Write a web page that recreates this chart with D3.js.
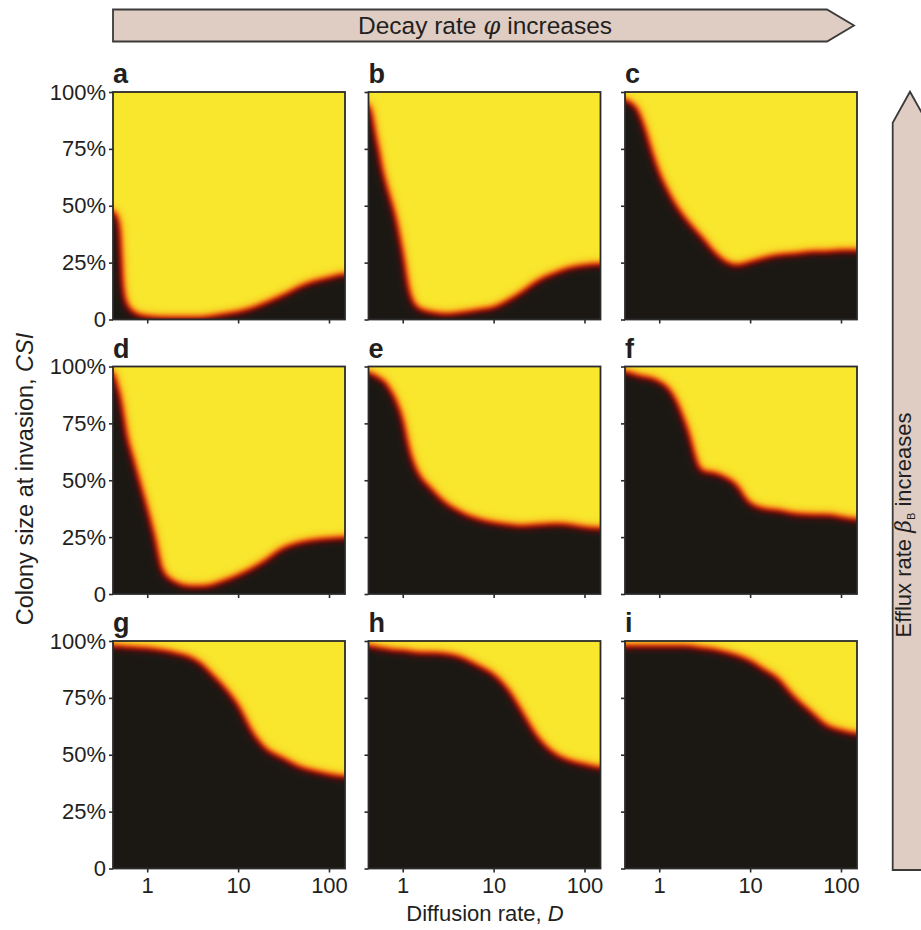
<!DOCTYPE html>
<html>
<head>
<meta charset="utf-8">
<script src="https://cdn.jsdelivr.net/npm/d3@7/dist/d3.min.js"></script>
<style>
  body { margin: 0; background: #fff; }
  text { font-family: "Liberation Sans", Arial, sans-serif; fill: #231f20; }
</style>
</head>
<body>
<div id="chart"></div>
<script>
// diffusion rate D sampled along the x axis (log)
const diffusion = [0.42, 0.46, 0.5, 0.55, 0.6, 0.7, 0.85, 1, 1.2, 1.5, 2, 3, 4, 5, 7, 10, 15, 20, 30, 50, 70, 100, 150];

// CSI (%) where the map switches from black (below) to yellow (above)
const csiA = [48, 46, 40, 14, 7, 3.5, 2, 1.5, 1.2, 1, 1, 1, 1, 1.5, 2.5, 3.5, 5.5, 7.5, 10.5, 15, 17, 18.5, 20];
const csiB = [95, 90, 82, 74, 66, 56, 44, 30, 12, 5, 3.5, 2.5, 3, 3.5, 4.5, 5.5, 9, 12, 17, 21, 23, 24, 24.5];
const csiC = [97, 96, 95, 94, 91, 84, 73, 65, 58, 51, 44, 36, 30, 26.5, 24, 25.5, 27.5, 28.5, 29, 30, 30, 30.5, 30.5];
const csiD = [98, 93, 88, 79, 70, 60, 48, 38, 26, 10, 5.5, 3.5, 3.5, 4, 6, 8.5, 12, 15, 20, 23, 24, 24.5, 25];
const csiE = [97.5, 97, 96, 95, 94.5, 91, 85, 77, 63, 53, 47, 40, 37, 35, 33, 31.5, 30.5, 30, 30.5, 31, 30.5, 29.5, 29];
const csiF = [98, 97.5, 97, 96.5, 96, 95.5, 95, 93.5, 91.5, 86, 74, 54, 53.5, 52, 48.5, 40, 37.5, 37, 35.5, 35, 35, 34, 33];
const csiG = [98, 98, 98, 97.5, 97.5, 97.5, 97, 97, 96.5, 96, 95, 93, 90, 86, 80, 72, 59, 53, 49, 44.5, 43, 41.5, 40.5];
const csiH = [98, 98, 97.5, 97, 97, 96.5, 96, 96, 95.5, 95, 95, 94.5, 93.5, 92, 89, 85.5, 78, 70, 58.5, 50, 47.5, 46, 44.5];
const csiI = [98, 98, 98, 98, 98, 98, 98, 98, 98, 98, 98, 97, 96.5, 95.5, 94, 91.5, 87, 84, 76, 68, 63, 61, 59.5];

const panelLabels = ['a', 'b', 'c', 'd', 'e', 'f', 'g', 'h', 'i'];
const panelSeries = [csiA, csiB, csiC, csiD, csiE, csiF, csiG, csiH, csiI];
const xTicks = [1, 10, 100];
const yTicks = [0, 25, 50, 75, 100];

const width = 921, height = 930;
const lefts = [113, 368.5, 625], tops = [92, 366.5, 641];
const pw = 232, ph = 227.5, pad = 22;

const svg = d3.select('#chart').append('svg')
    .attr('width', width)
    .attr('height', height);

const x = d3.scaleLog().domain([0.42, 150]).range([0, pw]);
const y = d3.scaleLinear().domain([0, 100]).range([ph, 0]);

const defs = svg.append('defs');

// blur the black/white mask, then map grey level to a hot colormap
const filter = defs.append('filter')
    .attr('id', 'heat')
    .attr('x', -0.2).attr('y', -0.2).attr('width', 1.4).attr('height', 1.4)
    .attr('color-interpolation-filters', 'sRGB');
filter.append('feGaussianBlur').attr('stdDeviation', 5);
const ct = filter.append('feComponentTransfer');
ct.append('feFuncR').attr('type', 'table').attr('tableValues', '0.106 0.22 0.42 0.62 0.80 0.91 0.96 0.975 0.976');
ct.append('feFuncG').attr('type', 'table').attr('tableValues', '0.098 0.07 0.08 0.14 0.27 0.45 0.64 0.81 0.906');
ct.append('feFuncB').attr('type', 'table').attr('tableValues', '0.082 0.06 0.05 0.05 0.06 0.09 0.12 0.15 0.176');

defs.append('clipPath').attr('id', 'panel-clip')
  .append('rect').attr('width', pw).attr('height', ph);

const area = d3.area()
    .x(d => x(d[0]))
    .y0(ph + pad)
    .y1(d => y(d[1]))
    .curve(d3.curveMonotoneX);

panelSeries.forEach((series, i) => {
  const row = Math.floor(i / 3), col = i % 3;
  const g = svg.append('g')
      .attr('transform', `translate(${lefts[col]},${tops[row]})`);

  const pts = diffusion.map((d, j) => [d, series[j]]);
  pts.unshift([x.invert(-pad), series[0]]);
  pts.push([x.invert(pw + pad), series[series.length - 1]]);

  const heat = g.append('g').attr('clip-path', 'url(#panel-clip)')
    .append('g').attr('filter', 'url(#heat)');
  heat.append('rect')
      .attr('x', -pad).attr('y', -pad)
      .attr('width', pw + 2 * pad).attr('height', ph + 2 * pad)
      .attr('fill', '#fff');
  heat.append('path')
      .datum(pts)
      .attr('d', area)
      .attr('fill', '#000');

  const xAxis = d3.axisBottom(x).tickValues(xTicks).tickSize(4).tickPadding(5)
      .tickFormat(row === 2 ? d3.format('d') : '');
  const yAxis = d3.axisLeft(y).tickValues(yTicks).tickSize(4).tickPadding(3)
      .tickFormat(col === 0 ? (d => d === 0 ? '0' : d + '%') : '');

  const gx = g.append('g').attr('transform', `translate(0,${ph})`).call(xAxis);
  const gy = g.append('g').call(yAxis);
  [gx, gy].forEach(a => {
    a.select('.domain').remove();
    a.selectAll('line').attr('stroke', '#2b2b2b').attr('stroke-width', 1.6);
    a.selectAll('text').attr('font-size', 22).attr('fill', '#231f20')
      .style('font-family', '"Liberation Sans", Arial, sans-serif');
  });

  g.append('rect')
      .attr('width', pw).attr('height', ph)
      .attr('fill', 'none')
      .attr('stroke', '#2b2b2b')
      .attr('stroke-width', 1.8);

  g.append('text')
      .attr('x', 0).attr('y', -9)
      .attr('font-size', 27).attr('font-weight', 'bold')
      .text(panelLabels[i]);
});

// axis titles
const xTitle = svg.append('text')
    .attr('x', lefts[0] + (lefts[2] + pw - lefts[0]) / 2)
    .attr('y', 921)
    .attr('text-anchor', 'middle')
    .attr('font-size', 22);
xTitle.append('tspan').text('Diffusion rate, ');
xTitle.append('tspan').attr('font-style', 'italic').text('D');

const yTitle = svg.append('text')
    .attr('transform', 'translate(33,479) rotate(-90)')
    .attr('text-anchor', 'middle')
    .attr('font-size', 23.5);
yTitle.append('tspan').text('Colony size at invasion, ');
yTitle.append('tspan').attr('font-style', 'italic').text('CSI');

// top arrow: decay rate
svg.append('path')
    .attr('d', 'M113,9.5 L827,9.5 L854,25.5 L827,41.5 L113,41.5 Z')
    .attr('fill', '#dfcdc4')
    .attr('stroke', '#3a3a3a')
    .attr('stroke-width', 1.8);
const topText = svg.append('text')
    .attr('x', 485).attr('y', 34)
    .attr('text-anchor', 'middle')
    .attr('font-size', 24.5);
topText.append('tspan').text('Decay rate ');
topText.append('tspan').attr('font-family', '"DejaVu Serif", serif').attr('font-style', 'italic').text('φ');
topText.append('tspan').text(' increases');

// right arrow: efflux rate
svg.append('path')
    .attr('d', 'M892.7,870 L892.7,122.7 L910,91.7 L927.3,122.7 L927.3,870 Z')
    .attr('fill', '#dfcdc4')
    .attr('stroke', '#3a3a3a')
    .attr('stroke-width', 1.8);
const sideText = svg.append('text')
    .attr('transform', 'translate(911,525) rotate(-90)')
    .attr('text-anchor', 'middle')
    .attr('font-size', 22);
sideText.append('tspan').text('Efflux rate ');
sideText.append('tspan').attr('font-family', '"DejaVu Serif", serif').attr('font-style', 'italic').text('β');
sideText.append('tspan').attr('font-size', 11).attr('dy', 4).text('B');
sideText.append('tspan').attr('dy', -4).text(' increases');
</script>
</body>
</html>
